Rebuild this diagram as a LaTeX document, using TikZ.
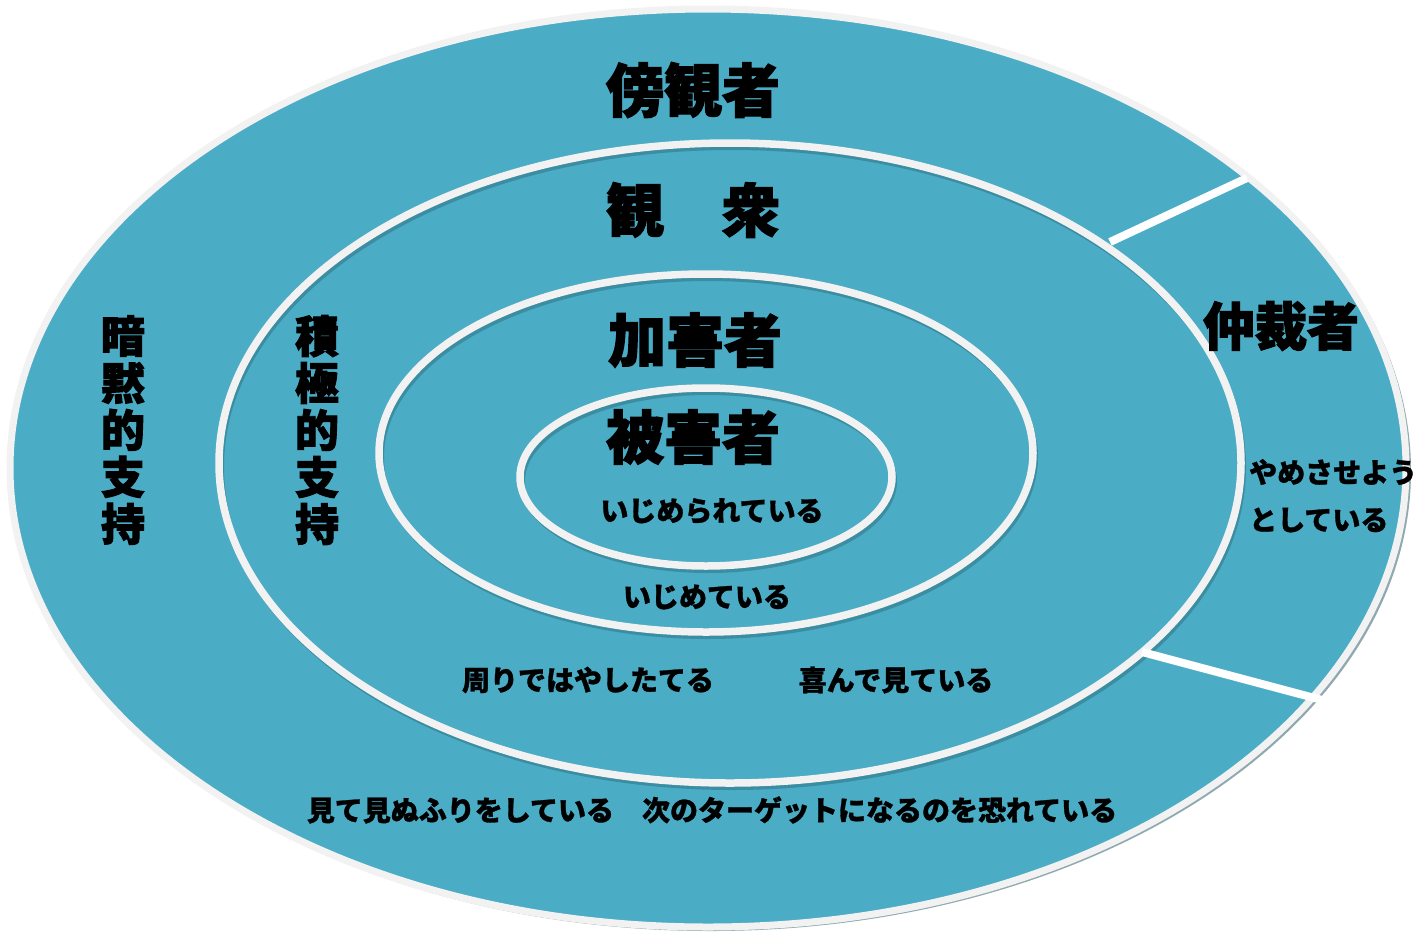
\documentclass[tikz,border=0pt]{standalone}
\usepackage{fontspec}
\setmainfont{Noto Sans CJK JP}
\newfontfamily\jp{Noto Sans CJK JP}[BoldFeatures={FakeBold=1}]
\newfontfamily\jpx{Noto Sans CJK JP}[BoldFeatures={FakeBold=2.2}]
\definecolor{ringfill}{HTML}{4BACC6}
\definecolor{ringline}{HTML}{F2F2F2}
\definecolor{ringshade}{HTML}{3B8DA2}
\definecolor{outershade}{HTML}{8FA9B1}
\begin{document}
\begin{tikzpicture}[x=1pt,y=-1pt,
  ring/.style={draw=ringline, line width=7.5pt},
  ringshadow/.style={draw=ringshade, line width=6pt},
  divider/.style={draw=white, line width=8pt},
  titletext/.style={font=\jpx\bfseries\fontsize{58}{60}\selectfont, inner sep=0pt},
  labeltext/.style={font=\jp\bfseries\fontsize{28}{30}\selectfont, inner sep=0pt},
  verttext/.style={font=\jpx\bfseries\fontsize{44}{47}\selectfont, align=center, inner sep=0pt}]
\useasboundingbox (0,0) rectangle (1427,935);
% outer ring
\fill[outershade] (711,471) ellipse [x radius=700pt, y radius=460pt];
\draw[fill=ringfill, draw=ringline, line width=7pt] (708,468) ellipse [x radius=698pt, y radius=459pt];
% audience ring
\draw[ringshadow] (732,467) ellipse [x radius=511pt, y radius=320pt];
\draw[ring] (730,463) ellipse [x radius=511pt, y radius=320pt];
% bully ring
\draw[ringshadow] (708,457) ellipse [x radius=327pt, y radius=179pt];
\draw[ring] (706,453) ellipse [x radius=327pt, y radius=179pt];
% victim ring
\draw[ringshadow] (708,481) ellipse [x radius=186pt, y radius=89pt];
\draw[ring] (706,477) ellipse [x radius=186pt, y radius=89pt];
% dividers of the mediator sector
\draw[divider] (1110,242) -- (1247,178);
\draw[divider] (1142,652) -- (1322,700);
% titles
\node[titletext] (bystander) at (693,90) {傍観者};
\node[titletext] (audience) at (693,210) {観　衆};
\node[titletext] (bully) at (695,340) {加害者};
\node[titletext] (victim) at (693,437) {被害者};
\node[font=\jpx\bfseries\fontsize{52}{54}\selectfont, inner sep=0pt] (mediator) at (1281,326) {仲裁者};
% labels
\node[labeltext] (l1) at (712,511) {いじめられている};
\node[labeltext] (l2) at (707,597) {いじめている};
\node[labeltext] (l3) at (588,680) {周りではやしたてる};
\node[labeltext] (l4) at (896,680) {喜んで見ている};
\node[labeltext] (l5) at (712,810) {見て見ぬふりをしている　次のターゲットになるのを恐れている};
\node[labeltext, anchor=west] (l6) at (1249,472) {やめさせよう};
\node[labeltext, anchor=west] (l7) at (1249,520) {としている};
% vertical texts
\node[verttext] (tacit) at (123,430) {暗\\黙\\的\\支\\持};
\node[verttext] (active) at (317,430) {積\\極\\的\\支\\持};
\end{tikzpicture}
\end{document}
